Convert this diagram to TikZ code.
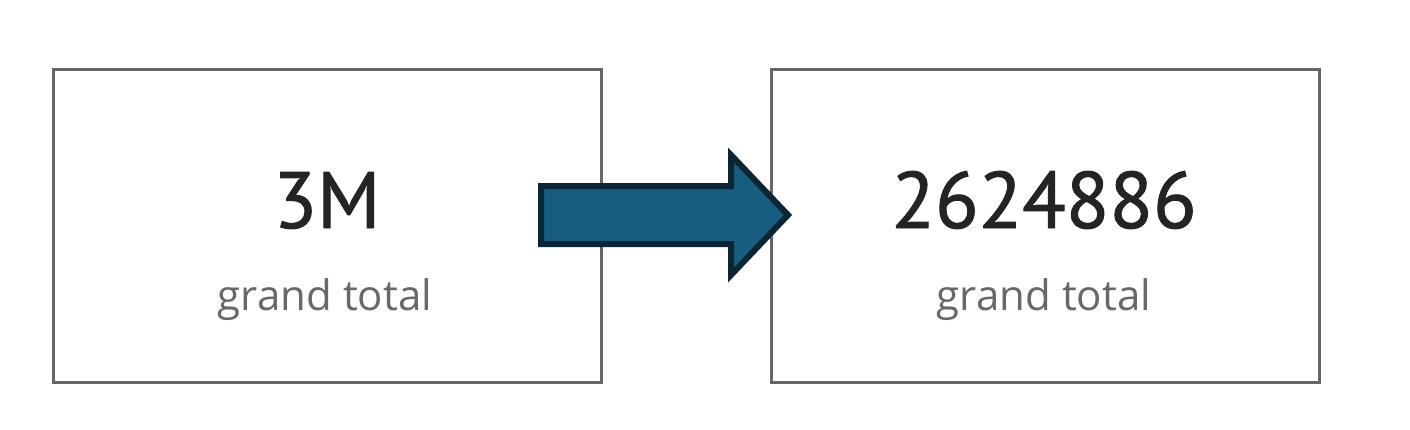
\documentclass[tikz,border=0pt]{standalone}
\usepackage{fontspec}
\newfontfamily\numfont{PT Sans}[FakeBold=1.2]
\newfontfamily\labfont{Open Sans}
\definecolor{frame}{HTML}{666666}
\definecolor{numcol}{HTML}{252423}
\definecolor{labcol}{HTML}{6A6866}
\definecolor{arrowfill}{HTML}{175E7E}
\definecolor{arrowline}{HTML}{0B2535}
\tikzset{
  card/.style={draw=frame, line width=2.2pt, fill=white, minimum width=548pt, minimum height=313pt, inner sep=0pt, outer sep=0pt},
  bignum/.style={text=numcol, font=\numfont\fontsize{80}{80}\selectfont, inner sep=0pt, anchor=base},
  caption/.style={text=labcol, font=\labfont\fontsize{42}{42}\selectfont, inner sep=0pt, anchor=base},
  bigarrow/.style={draw=arrowline, fill=arrowfill, line width=6pt, miter limit=10}
}
\begin{document}
\begin{tikzpicture}[x=1pt,y=-1pt]
\useasboundingbox[fill=white] (0,0) rectangle (1410,429);
\node[card] (box1) at (327.5,226) {};
\node[card] (box2) at (1045.5,226) {};
\node[bignum] (num1) at (327,228) {3M};
\node[caption] (lab1) at (325,310) {grand total};
\node[bignum] (num2) at (1044,228) {2624886};
\node[caption] (lab2) at (1044,310) {grand total};
\coordinate (tail) at (541,215);
\coordinate (tip) at (788,215);
\draw[bigarrow] (tail) ++(0,-29) -- (731,186) -- (731,155) -- (tip) -- (731,275) -- (731,244) -- (541,244) -- cycle;
\end{tikzpicture}
\end{document}
